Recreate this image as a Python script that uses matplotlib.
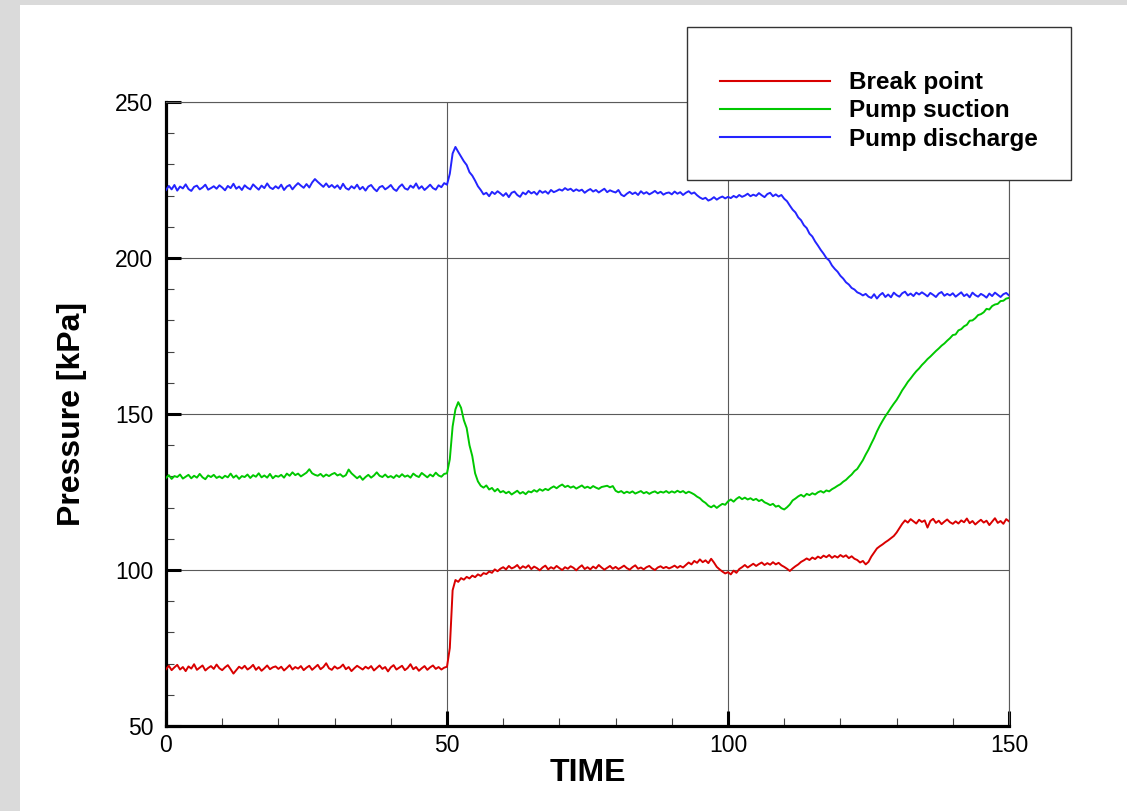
import numpy as np
import matplotlib
matplotlib.use("Agg")
import matplotlib.pyplot as plt
from matplotlib.patches import Rectangle
from matplotlib.ticker import MultipleLocator

plt.rcParams['font.family'] = ['Liberation Sans', 'DejaVu Sans']

# ---------------- data (step 0.5 s) ----------------
time = np.arange(0, 150.01, 0.5)

pump_discharge = [
    221.8, 223.1, 222.0, 223.4, 221.6, 222.9, 222.3, 223.6, 222.1, 221.5, 222.8, 223.2, 222.0, 222.6, 223.5, 221.9, 222.4, 223.0, 222.2, 223.3,
    222.6, 221.7, 223.1, 222.4, 223.8, 222.2, 222.9, 221.8, 223.3, 222.5, 222.0, 223.6, 222.7, 221.9, 223.2, 222.4, 223.9, 222.6, 222.1, 223.0,
    222.3, 223.5, 221.8, 222.9, 223.4, 222.0, 223.1, 224.0, 223.2, 222.5, 223.7, 222.6, 224.2, 225.3, 224.4, 223.6, 222.8, 223.9, 222.7, 223.4,
    222.5, 223.3, 222.1, 223.8, 222.4, 221.9, 223.0, 222.3, 223.5, 222.0, 222.8, 221.6, 222.9, 223.4, 222.2, 221.4, 222.7, 223.1, 222.0, 222.6,
    223.4, 222.1, 221.5, 222.8, 223.6, 222.3, 221.9, 223.2, 222.5, 223.9, 222.2, 223.0, 221.8, 222.6, 223.5, 222.4, 221.9, 223.3, 222.7, 224.0,
    223.5, 227.0, 233.5, 235.6, 234.0, 232.5, 231.0, 229.8, 227.5, 226.4, 224.8, 223.0, 221.8, 220.4, 220.9, 219.8, 221.2, 220.5, 221.4, 220.7,
    219.9, 220.8, 219.5, 220.9, 221.3, 220.2, 219.6, 221.0, 220.4, 221.5, 220.7, 221.2, 220.3, 221.6, 220.9, 221.4, 220.6, 221.8, 221.1, 221.5,
    222.0, 221.6, 222.4, 221.8, 222.2, 221.4, 222.0, 221.5, 221.9, 220.9, 221.6, 222.1, 221.3, 221.8, 221.0, 221.6, 222.2, 221.1, 221.7, 221.3,
    221.0, 221.8, 220.3, 219.8, 220.6, 221.2, 220.5, 221.0, 220.2, 221.4, 220.6, 221.1, 220.4, 220.9, 221.5, 220.7, 221.2, 220.3, 220.8, 221.0,
    220.4, 221.3, 220.6, 221.1, 220.2, 220.9, 221.4, 220.6, 221.0, 220.1, 219.4, 218.9, 219.3, 218.4, 218.8, 219.5, 218.7, 219.3, 219.7, 219.1,
    219.6, 219.2, 219.9, 219.4, 220.2, 219.6, 220.0, 220.6, 219.8, 220.3, 219.9, 220.8, 220.1, 219.5, 220.5, 220.9, 219.8, 220.4, 219.7, 220.2,
    219.0, 218.2, 216.8, 215.5, 214.6, 213.0, 212.1, 210.5, 209.6, 207.8, 206.9, 205.3, 204.0, 202.6, 201.4, 200.0, 199.2, 197.6, 196.5, 195.6,
    194.3, 193.4, 192.2, 191.5, 190.4, 189.9, 189.0, 188.6, 188.0, 188.5, 187.6, 187.2, 188.4, 187.0, 188.1, 188.8, 187.5, 188.3, 187.4, 188.9,
    188.1, 187.6, 188.7, 189.2, 188.0, 188.6, 187.8, 188.9, 188.3, 189.0, 188.4, 187.7, 188.8, 188.2, 187.5, 188.6, 189.1, 187.9, 188.5, 188.0,
    188.7, 187.6, 188.3, 189.0, 187.8, 188.4, 187.4, 188.9, 188.1, 187.6, 188.5, 188.0, 187.3, 188.6, 187.8, 188.9, 188.2, 187.5, 188.4, 188.8,
    188.0,
]

pump_suction = [
    129.5, 130.4, 129.2, 130.1, 129.8, 130.6, 129.3, 129.9, 130.5, 129.4, 130.2, 129.6, 130.8, 129.7, 129.1, 130.3, 129.8, 130.5, 129.5, 130.0,
    129.4, 130.2, 129.7, 130.9, 129.6, 130.3, 129.2, 130.1, 129.8, 130.6, 129.5, 130.4, 129.9, 131.0, 129.7, 130.3, 129.6, 130.8, 129.4, 130.2,
    129.9, 130.5, 129.6, 130.9, 130.2, 131.3, 130.4, 130.9, 130.0, 130.6, 131.2, 132.3, 131.0, 130.5, 130.2, 130.8, 129.9, 130.6, 130.1, 130.7,
    131.1, 130.3, 130.7, 129.9, 130.4, 132.2, 131.0, 130.2, 129.4, 130.1, 128.9, 129.8, 130.5, 129.6, 130.3, 131.3, 130.2, 129.8, 130.6, 129.7,
    130.1, 129.5, 130.4, 129.8, 130.7, 129.9, 130.3, 129.6, 130.9, 130.2, 129.8, 131.1, 130.4, 129.7, 130.6, 130.0, 131.2, 130.3, 129.9, 130.8,
    131.0, 135.5, 146.0, 151.5, 153.8, 152.0, 148.0, 145.5, 140.0, 136.5, 131.0, 128.4, 127.0, 126.4, 127.1, 125.8, 126.3, 125.2, 126.0, 124.9,
    125.3, 124.6, 125.1, 124.2, 124.8, 125.4, 124.5, 125.0, 124.3, 125.2, 124.9, 125.6, 125.1, 125.9, 125.4, 126.0, 125.6, 126.3, 126.8, 126.2,
    126.9, 127.4, 126.6, 127.0, 126.4, 126.8, 126.1, 126.6, 127.1, 126.3, 126.7, 126.2, 126.9, 126.4, 126.0, 126.6, 126.8, 127.0, 126.5, 126.9,
    125.4, 124.9, 125.3, 124.6, 125.1, 124.7, 125.2, 124.5, 124.9, 125.3, 124.6, 125.0, 124.4, 124.9, 125.2, 124.6, 125.1, 124.8, 125.3, 124.7,
    125.2, 124.8, 125.4, 124.9, 125.3, 124.6, 125.1, 124.7, 124.2, 123.5, 123.0, 122.1, 121.5, 120.6, 120.1, 120.7, 119.9, 120.6, 121.2, 120.9,
    122.0, 122.6, 121.9, 122.8, 123.4, 122.7, 123.2, 122.6, 123.0, 122.4, 122.8, 122.1, 122.5, 121.7, 121.3, 120.8, 121.2, 120.3, 120.6, 119.8,
    119.4, 120.1, 121.0, 122.3, 122.9, 123.6, 124.1, 123.5, 124.4, 124.0, 124.6, 124.2, 124.9, 125.3, 124.8, 125.5, 125.2, 125.9, 126.4, 127.0,
    127.5, 128.3, 128.9, 129.8, 130.6, 131.7, 132.4, 133.8, 135.2, 137.0, 138.6, 140.5, 142.3, 144.4, 146.2, 147.8, 149.3, 150.6, 152.0, 153.3,
    154.5, 156.0, 157.6, 158.9, 160.3, 161.4, 162.6, 163.7, 164.6, 165.7, 166.6, 167.6, 168.4, 169.3, 170.2, 171.0, 171.9, 172.6, 173.5, 174.3,
    175.3, 175.5, 176.8, 177.2, 178.1, 178.6, 179.9, 180.0, 180.7, 181.7, 182.0, 182.6, 183.7, 183.5, 184.6, 185.1, 185.3, 186.2, 186.3, 187.0,
    187.2,
]

break_point = [
    68.2, 69.3, 67.9, 68.8, 69.6, 68.1, 68.9, 67.6, 69.1, 68.4, 69.8, 68.0, 68.7, 69.4, 67.8, 68.6, 69.2, 68.3, 69.7, 68.5,
    67.9, 68.8, 69.5, 68.2, 66.8, 67.9, 69.0, 68.4, 69.3, 68.1, 68.7, 69.6, 68.0, 68.9, 67.7, 68.5, 69.4, 68.2, 68.8, 69.1,
    68.3, 69.0, 67.8, 68.6, 69.5, 68.1, 68.9, 68.4, 69.2, 67.9, 68.7, 69.3, 68.0, 68.8, 69.6, 68.2, 68.9, 70.1, 68.5, 68.0,
    69.1, 68.4, 68.8, 69.7, 68.2, 68.9, 67.6, 68.5, 69.3, 68.7, 68.1, 69.0, 68.4, 69.2, 67.8, 68.6, 69.4, 68.3, 68.9, 67.5,
    68.8, 69.5, 68.1, 68.7, 69.3, 67.9, 68.6, 69.8, 68.2, 68.9, 67.7, 68.5, 69.2, 68.0, 68.8, 69.4, 68.3, 68.9, 68.1, 68.7,
    69.0, 75.0, 93.5, 96.8, 96.2, 97.4, 96.9, 97.8, 97.3, 98.2, 97.7, 98.6, 98.1, 99.0, 98.7, 99.5, 99.1, 100.2, 99.6, 100.4,
    100.9, 100.2, 101.3, 100.5, 100.9, 101.6, 100.4, 101.2, 100.7, 101.5, 100.3, 101.1, 100.6, 99.9, 100.8, 101.4, 100.2, 100.9, 100.4, 101.3,
    100.6, 100.0, 100.9, 100.4, 101.2, 100.7, 99.9, 100.8, 101.5, 100.3, 100.9, 100.2, 101.1, 100.5, 101.6, 100.8, 100.1, 100.7, 101.3, 100.4,
    101.0, 100.3, 100.8, 101.4, 100.6, 100.1, 100.9, 101.5, 100.4, 100.8, 100.2, 100.9, 101.3, 100.5, 100.0, 100.8, 101.2, 100.6, 101.0, 100.5,
    100.9, 101.4, 100.7, 101.3, 100.8, 101.6, 102.4, 101.8, 102.9, 102.3, 103.4, 102.5, 103.1, 102.2, 103.6, 102.4, 101.0, 100.2, 99.5, 98.9,
    99.3, 98.6, 99.8, 99.1, 100.3, 100.9, 101.6, 100.8, 101.4, 102.0, 101.3, 101.9, 102.4, 101.6, 102.2, 101.7, 102.5, 101.8, 102.3, 101.5,
    101.0, 100.4, 99.7, 100.5, 101.2, 101.8, 102.6, 103.1, 103.7, 103.2, 104.0, 103.5, 104.3, 103.8, 104.6, 104.1, 104.8, 103.9, 104.5, 104.0,
    104.8, 104.2, 104.7, 103.8, 104.4, 103.6, 103.2, 102.4, 102.9, 101.8, 102.6, 104.3, 105.6, 106.9, 107.6, 108.2, 108.9, 109.5, 110.2, 110.9,
    112.0, 113.4, 114.8, 115.9, 115.2, 116.3, 115.6, 114.9, 116.1, 115.4, 115.9, 113.6, 115.7, 116.4, 115.1, 115.8, 114.7, 115.5, 116.2, 115.3,
    114.8, 115.6, 114.9, 115.9, 115.3, 116.5, 115.0, 115.7, 114.6, 115.4, 116.1, 115.2, 115.8, 114.4, 115.5, 116.6, 115.1, 115.7, 114.8, 116.3,
    115.6,
]

series_labels = ["Break point", "Pump suction", "Pump discharge"]
series_colors = ["#d90000", "#00c800", "#2424ff"]

# ---------------- figure ----------------
W, H = 1127, 811
fig = plt.figure(figsize=(W / 100, H / 100), dpi=100)
fig.patch.set_facecolor("#dadada")
fig.add_artist(Rectangle((20 / W, 0), 1 - 20 / W, (H - 5) / H, transform=fig.transFigure,
                         facecolor="white", edgecolor="none", zorder=-10))

ax = fig.add_axes([166 / W, 85 / H, (1009 - 166) / W, (726 - 102) / H])
ax.set_facecolor("white")

lines = []
for vals, lab, col in zip([break_point, pump_suction, pump_discharge], series_labels, series_colors):
    ln, = ax.plot(time, vals, color=col, lw=1.4, label=lab, zorder=3)
    lines.append(ln)

ax.set_xlim(0, 150)
ax.set_ylim(50, 250)
ax.xaxis.set_major_locator(MultipleLocator(50))
ax.xaxis.set_minor_locator(MultipleLocator(10))
ax.yaxis.set_major_locator(MultipleLocator(50))
ax.yaxis.set_minor_locator(MultipleLocator(10))

ax.grid(True, which="major", color="#5a5a5a", lw=0.8, zorder=1)
ax.tick_params(which="major", direction="in", length=11, width=2.2, labelsize=16.5, color="black")
ax.tick_params(which="minor", direction="in", length=5.5, width=0.8, color="#444444")
ax.tick_params(axis="y", which="major", pad=9)
ax.tick_params(axis="x", which="major", pad=6)

for s in ["left", "bottom"]:
    ax.spines[s].set_linewidth(2.3)
    ax.spines[s].set_color("black")
for s in ["top", "right"]:
    ax.spines[s].set_linewidth(0.8)
    ax.spines[s].set_color("#5a5a5a")

ax.set_xlabel("TIME", fontsize=23, fontweight="bold")
ax.set_ylabel("Pressure [kPa]", fontsize=23, fontweight="bold")
ax.xaxis.set_label_coords(0.5, -0.051)
ax.yaxis.set_label_coords(-0.094, 0.5)

# legend box (frame drawn separately, inside the axes so the legend sits on top)
box = Rectangle((687 / W, 1 - 180 / H), (1071 - 687) / W, (180 - 27) / H,
                transform=fig.transFigure, facecolor="white", edgecolor="#333333",
                lw=1.0, zorder=8, clip_on=False)
ax.add_patch(box)
leg = ax.legend(handles=lines, loc="center left", bbox_to_anchor=(720 / W, 1 - 111 / H),
                bbox_transform=fig.transFigure, borderaxespad=0, borderpad=0, frameon=False,
                prop={"size": 17.5, "weight": "bold"},
                handlelength=4.53, handletextpad=0.78, labelspacing=0.22)
leg.set_zorder(10)
for lh in leg.get_lines():
    lh.set_linewidth(1.5)

fig.savefig("out.png", dpi=100, facecolor=fig.get_facecolor())
